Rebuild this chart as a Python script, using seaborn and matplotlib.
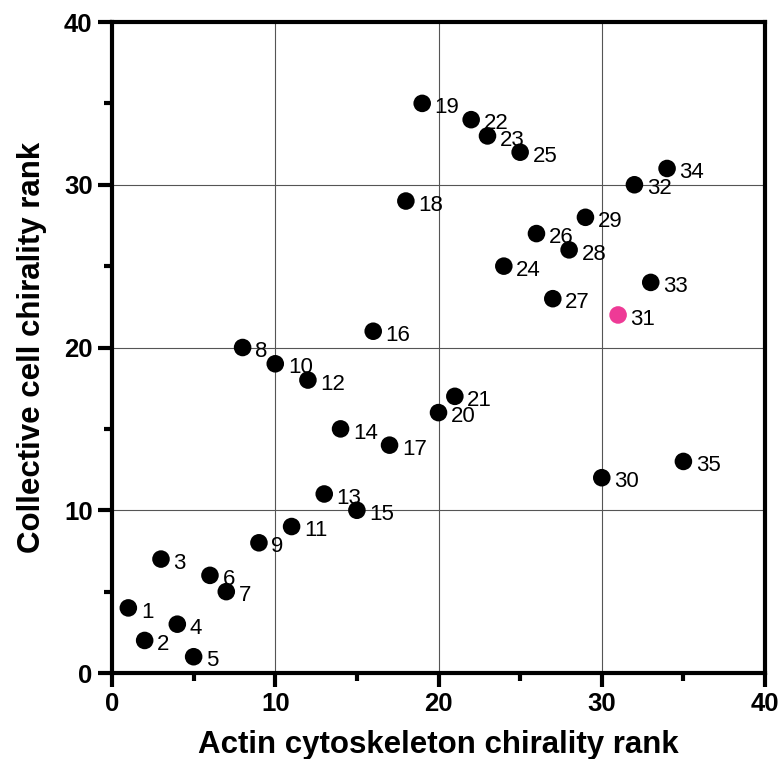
import matplotlib
matplotlib.use("Agg")
import matplotlib.pyplot as plt
import seaborn as sns
import pandas as pd
from matplotlib.ticker import MultipleLocator

labels = list(range(1, 36))
actin_rank = [1, 2, 3, 4, 5, 6, 7, 8, 9, 10, 11, 12, 13, 14, 15, 16, 17, 18, 19, 20,
              21, 22, 23, 24, 25, 26, 27, 28, 29, 30, 31, 32, 33, 34, 35]
collective_rank = [4, 2, 7, 3, 1, 6, 5, 20, 8, 19, 9, 18, 11, 15, 10, 21, 14, 29, 35, 16,
                   17, 34, 33, 25, 32, 27, 23, 26, 28, 12, 22, 30, 24, 31, 13]
highlight = [31]

sns.set_theme(style="white")
plt.rcParams['font.family'] = ['Liberation Sans', 'DejaVu Sans']

df = pd.DataFrame({"x": actin_rank, "y": collective_rank, "label": labels})
df["group"] = ["hl" if l in highlight else "base" for l in labels]

fig = plt.figure(figsize=(7.8, 7.59), dpi=100)
ax = fig.add_axes([0.1436, 0.1133, 0.9808 - 0.1436, 0.971 - 0.1133])

sns.scatterplot(data=df, x="x", y="y", hue="group",
                palette={"base": "black", "hl": "#EE3A96"},
                s=160, linewidth=0, legend=False, ax=ax, zorder=3)

for _, r in df.iterrows():
    ax.annotate(str(r["label"]), (r["x"], r["y"]), xytext=(9, -3),
                textcoords="offset points", fontsize=16, color="black",
                va="center", ha="left")

ax.set_xlim(0, 40)
ax.set_ylim(0, 40)
ax.xaxis.set_major_locator(MultipleLocator(10))
ax.yaxis.set_major_locator(MultipleLocator(10))
ax.xaxis.set_minor_locator(MultipleLocator(5))
ax.yaxis.set_minor_locator(MultipleLocator(5))
ax.grid(True, which="major", color="#555555", linewidth=0.8)
ax.set_axisbelow(True)

for sp in ax.spines.values():
    sp.set_visible(True)
    sp.set_color("black")
    sp.set_linewidth(3)

ax.tick_params(axis="both", which="major", direction="out", length=10, width=3,
               colors="black", labelsize=18.5, bottom=True, left=True, pad=4)
ax.tick_params(axis="both", which="minor", direction="out", length=6, width=3,
               colors="black", bottom=True, left=True)
for t in ax.get_xticklabels() + ax.get_yticklabels():
    t.set_fontweight("bold")

ax.set_xlabel("Actin cytoskeleton chirality rank", fontsize=22.5, fontweight="bold",
              labelpad=10, color="black")
ax.set_ylabel("Collective cell chirality rank", fontsize=22.5, fontweight="bold",
              labelpad=12, color="black")

fig.savefig("out.png", dpi=100)
